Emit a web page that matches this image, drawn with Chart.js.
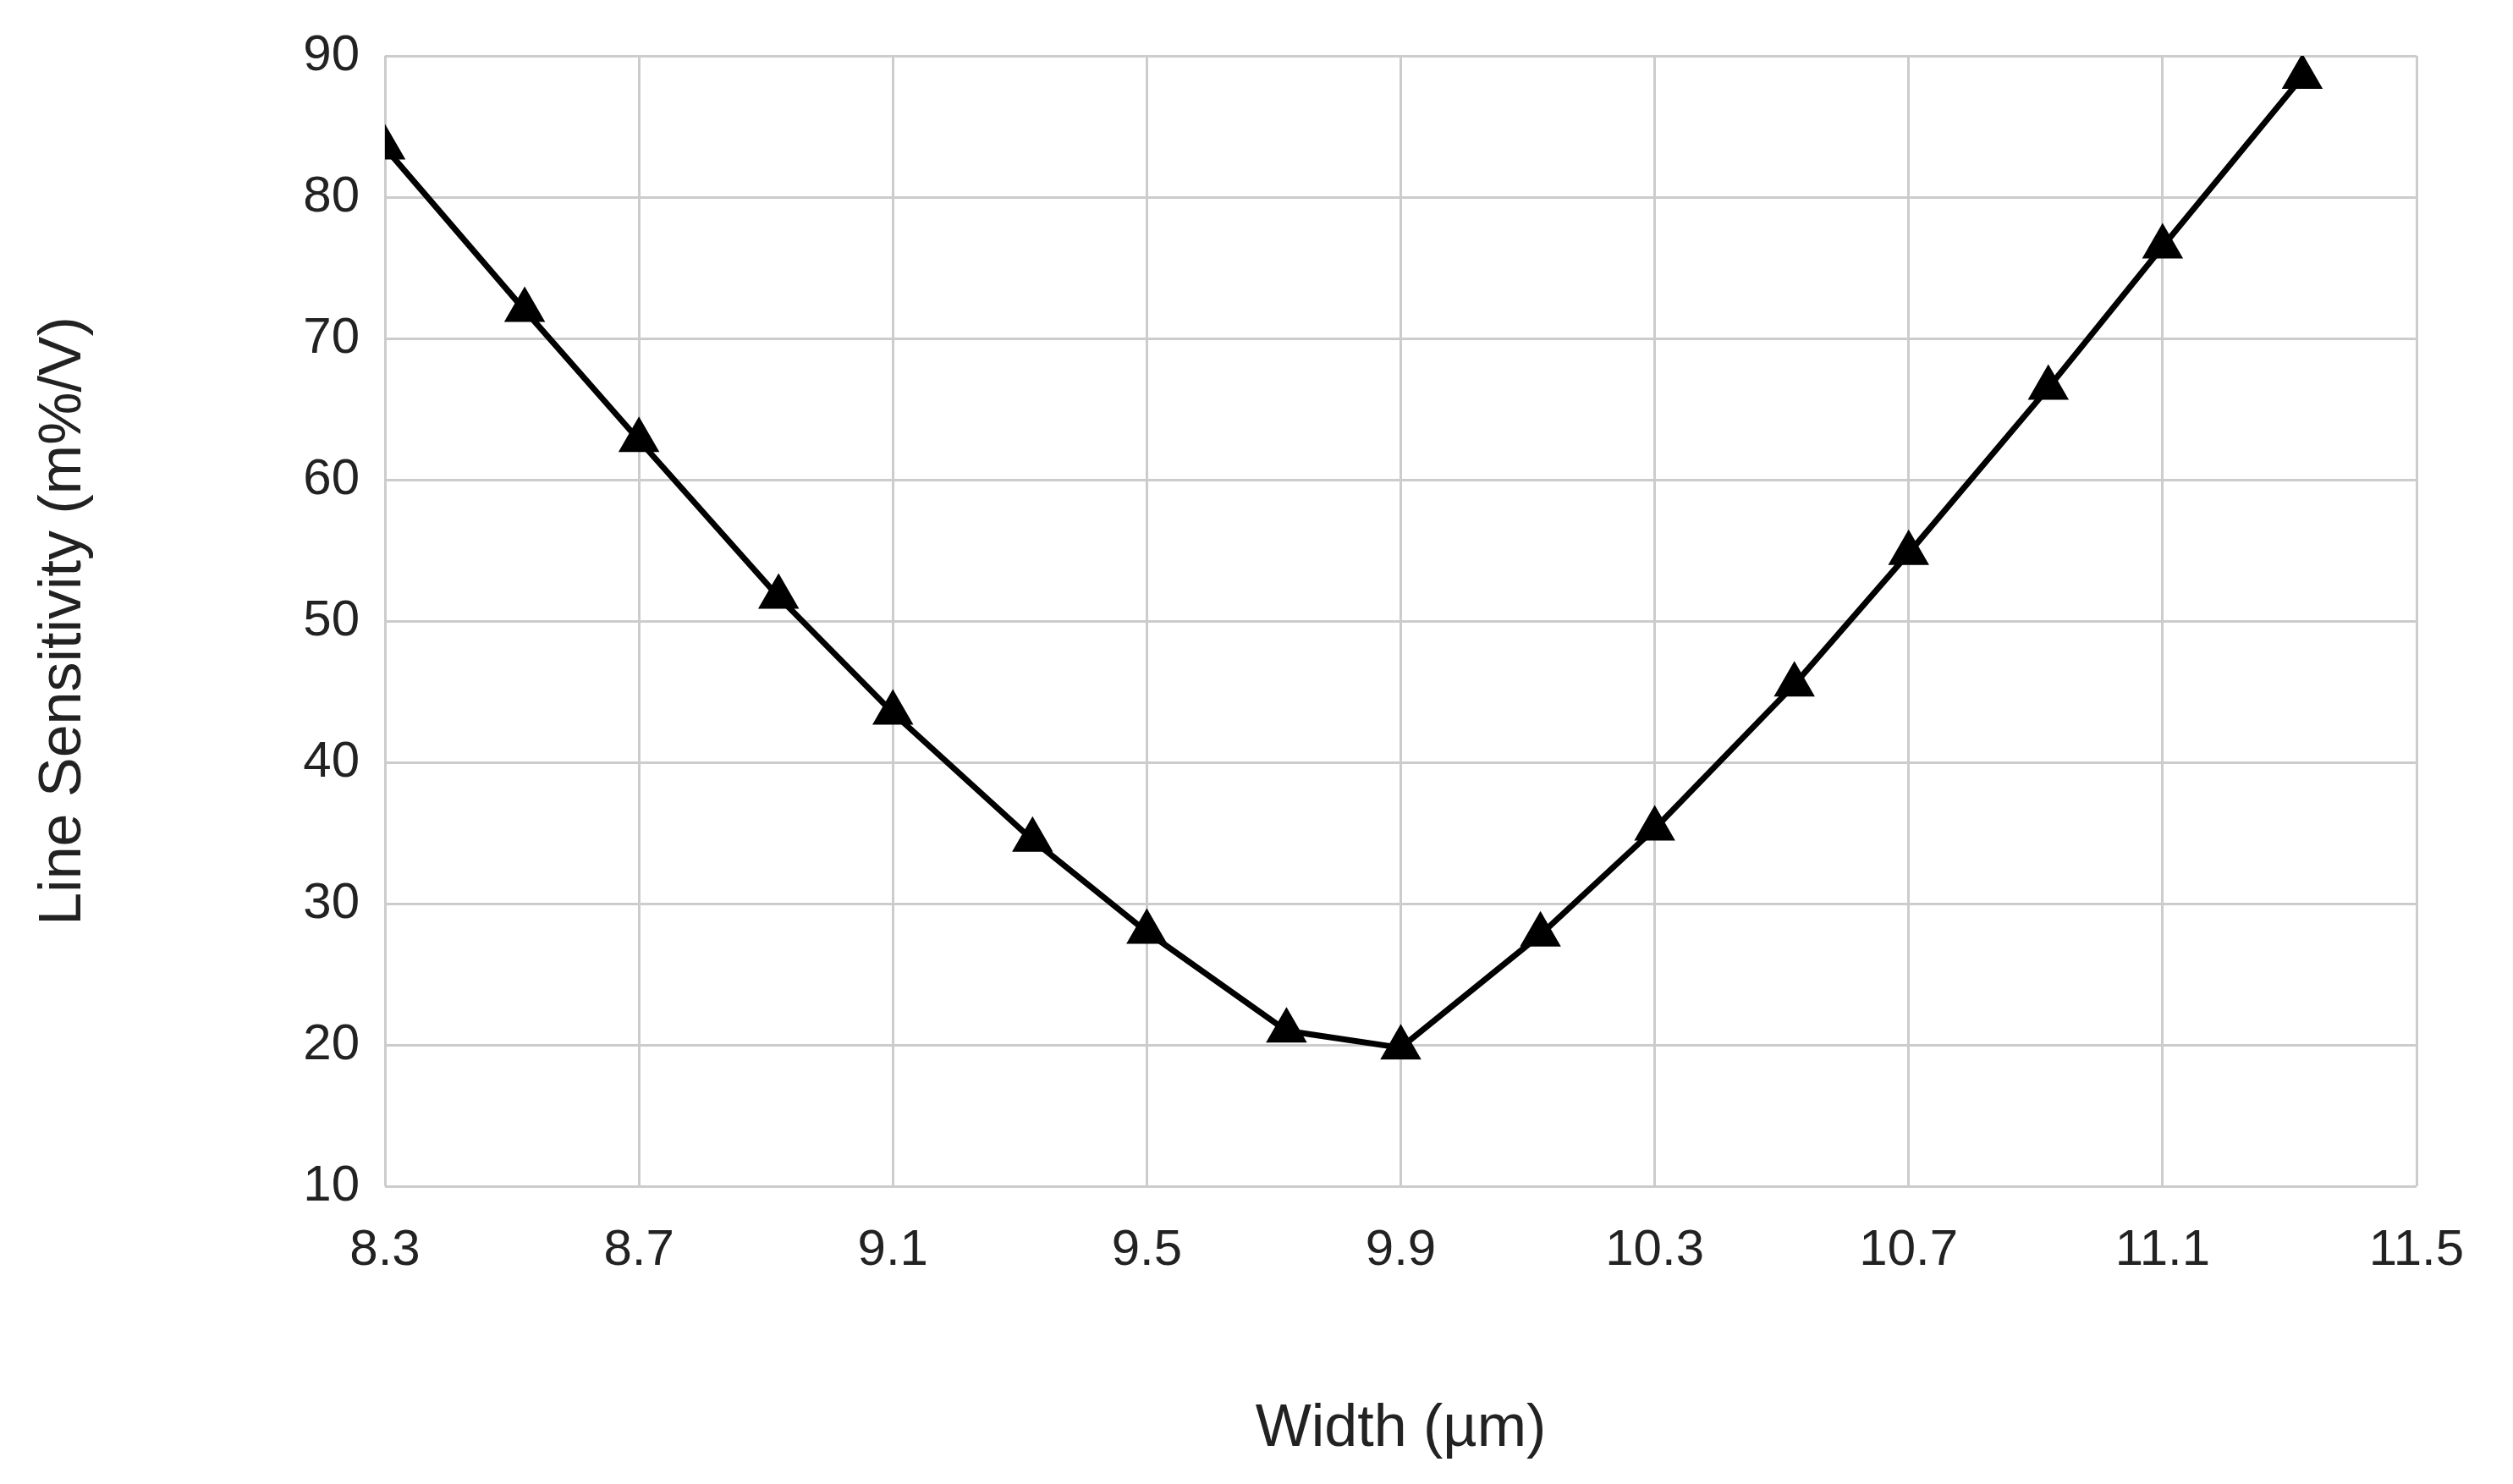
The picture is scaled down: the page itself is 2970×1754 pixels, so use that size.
<!DOCTYPE html>
<html>
<head>
<meta charset="utf-8">
<script src="https://cdn.jsdelivr.net/npm/chart.js@4"></script>
<style>
  html, body { margin: 0; padding: 0; background: #fff; }
</style>
</head>
<body>
<canvas id="myChart" width="2970" height="1754"></canvas>
<script>
// Data
const widths = [8.3, 8.52, 8.7, 8.92, 9.1, 9.32, 9.5, 9.72, 9.9, 10.12, 10.3, 10.52, 10.7, 10.92, 11.1, 11.32];
const sensitivity = [83.5, 72, 62.8, 51.7, 43.5, 34.5, 28, 21, 19.8, 27.8, 35.3, 45.5, 54.8, 66.5, 76.5, 88.5];
const xTicks = [8.3, 8.7, 9.1, 9.5, 9.9, 10.3, 10.7, 11.1, 11.5];
const yTicks = [10, 20, 30, 40, 50, 60, 70, 80, 90];

const points = widths.map(function(w, i) { return {x: w, y: sensitivity[i]}; });
const font = "Liberation Sans, Arial, sans-serif";

new Chart("myChart", {
  type: "scatter",
  data: {
    datasets: [{
      data: points,
      showLine: true,
      borderColor: "#000",
      backgroundColor: "#000",
      borderWidth: 7,
      pointStyle: "triangle",
      pointRadius: 21,
      pointHoverRadius: 21
    }]
  },
  options: {
    responsive: false,
    animation: false,
    devicePixelRatio: 1,
    layout: { padding: { left: 30, right: 114, top: 52, bottom: 18 } },
    plugins: { legend: { display: false }, tooltip: { enabled: false } },
    scales: {
      x: {
        type: "linear",
        min: 8.3,
        max: 11.5,
        afterBuildTicks: function(scale) { scale.ticks = xTicks.map(function(v) { return {value: v}; }); },
        afterFit: function(scale) { scale.height = 334; },
        grid: { color: "#cccccc", lineWidth: 3, drawTicks: false },
        border: { display: false },
        ticks: { color: "#222", font: { family: font, size: 60 }, padding: 40,
                 callback: function(v) { return v.toFixed(1); } },
        title: { display: true, text: "Width (µm)", color: "#222", font: { family: font, size: 70 } }
      },
      y: {
        min: 10,
        max: 90,
        afterBuildTicks: function(scale) { scale.ticks = yTicks.map(function(v) { return {value: v}; }); },
        afterFit: function(scale) { scale.width = 425; },
        grid: { color: "#cccccc", lineWidth: 3, drawTicks: false },
        border: { display: false },
        ticks: { color: "#222", font: { family: font, size: 60 }, padding: 30 },
        title: { display: true, text: "Line Sensitivity (m%/V)", color: "#222", font: { family: font, size: 70 } }
      }
    }
  }
});
</script>
</body>
</html>
